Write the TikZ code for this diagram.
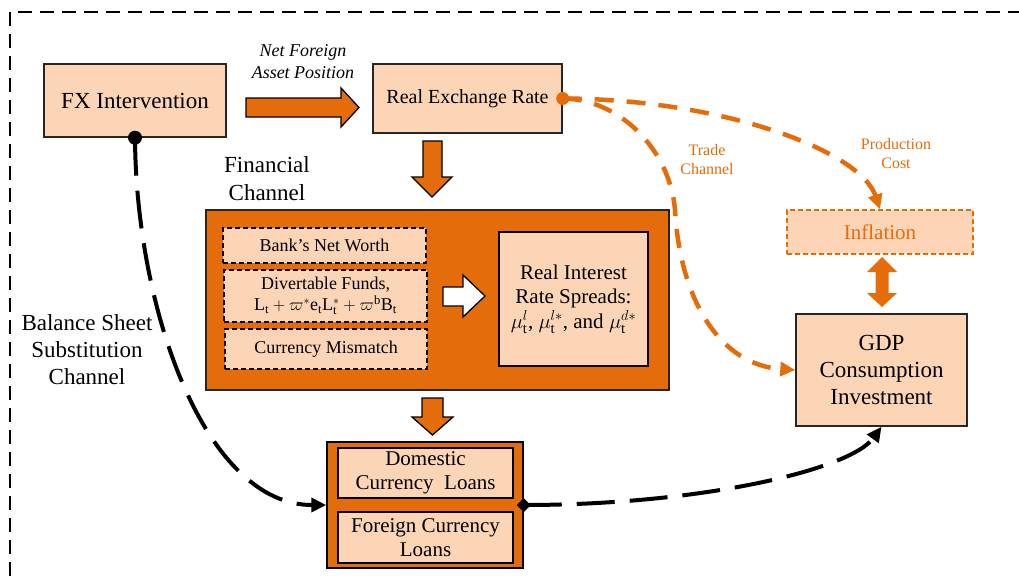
\documentclass[tikz,border=0pt]{standalone}
\usepackage{fontspec}
\setmainfont{Liberation Serif}
\usetikzlibrary{arrows.meta}
\definecolor{peach}{HTML}{FBD5B5}
\definecolor{orng}{HTML}{E46C0A}
\definecolor{edge}{HTML}{262626}
\newcommand\fsXL{\fontsize{23}{27}\selectfont}
\newcommand\fsL{\fontsize{21}{24.5}\selectfont}
\newcommand\fsM{\fontsize{20}{24}\selectfont}
\newcommand\fsS{\fontsize{18}{22}\selectfont}
\newcommand\fsXS{\fontsize{16}{19}\selectfont}
\begin{document}
\begin{tikzpicture}[x=1pt,y=-1pt,
  box/.style={draw=edge,line width=1.4pt,fill=peach,align=center,inner sep=0pt,text=black},
  dbox/.style={box,draw=black,dash pattern=on 5pt off 3pt},
  panel/.style={draw=black,line width=1.3pt,fill=orng,inner sep=0pt},
  blockarrow/.style={fill=orng,draw=black,line width=1.3pt,line join=miter},
  lbl/.style={align=center,inner sep=0pt},
  bline/.style={line width=4pt,dash pattern=on 38pt off 15pt,-{Triangle[length=15pt,width=14pt]}},
  oline/.style={orng,line width=4.5pt,dash pattern=on 19pt off 13pt,-{Triangle[length=15pt,width=14pt]}}]
\useasboundingbox (0,0) rectangle (1019,579);
\fill[white] (0,0) rectangle (1019,579);
\clip (0,0) rectangle (1019,579);
% outer dashed frame
\draw[line width=2pt,dash pattern=on 14pt off 8pt] (10,12) rectangle (1045,605);

% top boxes
\node[box,minimum width=182pt,minimum height=73pt,font=\fsXL] (fx) at (135,100.5) {FX Intervention};
\node[box,minimum width=189pt,minimum height=69pt,font=\fsM] (rer) at (467.5,98.5) {Real Exchange Rate};

% financial channel panel
\node[panel,draw=edge,line width=1.2pt,minimum width=463pt,minimum height=180pt] (fin) at (437.5,300) {};
\node[dbox,minimum width=203pt,minimum height=35pt,font=\fsS] (bank) at (324.5,245.5) {Bank’s Net Worth};
\node[dbox,minimum width=203pt,minimum height=52pt,font=\fsS] (div) at (325.5,296) {Divertable Funds,\\[-1pt] $\mathrm{L_t}+\varpi^{*}\mathrm{e_t}\mathrm{L_t^{*}}+\varpi^{\mathrm{b}}\mathrm{B_t}$};
\node[dbox,minimum width=202pt,minimum height=40pt,font=\fsS] (mism) at (326,349) {Currency Mismatch};
\node[box,draw=black,minimum width=149pt,minimum height=134pt,font=\fsL] (rirs) at (573.5,299) {Real Interest\\Rate Spreads:\\$\mu_{\mathrm{t}}^{l}$, $\mu_{\mathrm{t}}^{l*}$, and $\mu_{\mathrm{t}}^{d*}$};

% loans panel
\node[panel,line width=1.5pt,minimum width=196pt,minimum height=126pt] (loans) at (425,505) {};
\node[box,draw=black,minimum width=175pt,minimum height=50pt,font=\fsL] (dom) at (425.5,473) {Domestic\\Currency\ \ Loans};
\node[box,draw=black,minimum width=175pt,minimum height=51pt,font=\fsL] (for) at (425.5,537.5) {Foreign Currency\\Loans};

% right boxes
\node[box,draw=orng,dash pattern=on 5pt off 3pt,line width=1.5pt,minimum width=186pt,minimum height=44pt,font=\fsL,text=orng] (infl) at (880,232) {Inflation};
\node[box,minimum width=171pt,minimum height=112pt,font=\fsXL,text=black] (gdp) at (881.5,370) {GDP\\Consumption\\Investment};

% labels
\node[lbl,font=\fsS\itshape] (nfa) at (303,62) {Net Foreign\\Asset Position};
\node[lbl,font=\fsXL,text=black] (finlbl) at (267,179) {Financial\\[1pt]Channel};
\node[lbl,font=\fsXL] (bsl) at (87,350) {Balance Sheet\\Substitution\\Channel};
\node[lbl,font=\fsXS,text=orng] (trade) at (707,160) {Trade\\Channel};
\node[lbl,font=\fsXS,text=orng] (prod) at (896,154) {Production\\Cost};

% block arrows
\draw[blockarrow] (246,98) -- (341,98) -- (341,88) -- (359,107.5) -- (341,127) -- (341,117) -- (246,117) -- cycle;
\draw[blockarrow] (423,141) -- (442,141) -- (442,177) -- (452,177) -- (432,197) -- (412,177) -- (423,177) -- cycle;
\draw[blockarrow] (422,398) -- (443,398) -- (443,417) -- (453,417) -- (432.5,435) -- (412,417) -- (422,417) -- cycle;
\draw[blockarrow,fill=white] (443,287) -- (463,287) -- (463,275) -- (485,296) -- (463,317) -- (463,306) -- (443,306) -- cycle;
\fill[orng] (882,257) -- (897,272) -- (888.5,272) -- (888.5,293) -- (897,293) -- (882,307) -- (867,293) -- (875.5,293) -- (875.5,272) -- (867,272) -- cycle;

% black dashed connectors
\draw[bline] (fx.south) .. controls (136,310) and (205,505) .. (loans.west);
\fill (fx.south) circle (7pt);
\draw[bline] (loans.east) .. controls (700,505) and (850,470) .. (gdp.south);
\fill (loans.east) ++(-7,0) -- ++(7,-7) -- ++(7,7) -- ++(-7,7) -- cycle;

% orange dashed connectors
\draw[oline] (rer.east) .. controls (720,99) and (860,150) .. (infl.north);
\draw[oline] (rer.east) .. controls (620,99) and (670,150) .. (675,210) .. controls (680,300) and (720,365) .. (gdp.west);
\fill[orng] (rer.east) circle (6.5pt);
\end{tikzpicture}
\end{document}
